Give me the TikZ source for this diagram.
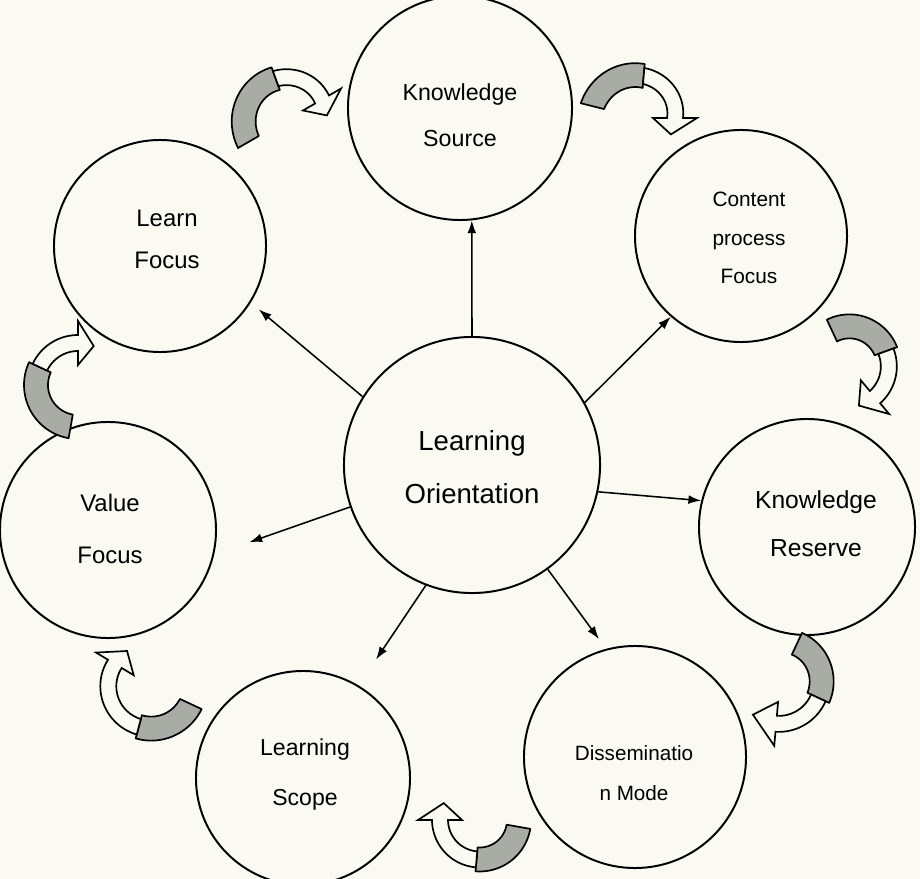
\documentclass[tikz,border=0pt]{standalone}
\usepackage{fontspec}
\setmainfont{Liberation Sans}
\usetikzlibrary{arrows.meta}
\definecolor{paper}{RGB}{250,250,242}
\definecolor{ribbon}{RGB}{168,172,165}
% curved ribbon arrow: #1 cx, #2 cy, #3 R start, #4 R end, #5 start angle, #6 twist angle, #7 head angle, #8 tip angle
\newcommand{\twarrow}[8]{%
  \pgfmathsetmacro{\twk}{((#4)-(#3))/((#7)-(#5))}%
  \filldraw[twgrey] plot[domain=#5:#6,samples=30,variable=\q]
      ({#1+(#3+\twk*(\q-(#5))+12)*cos(\q)},{#2+(#3+\twk*(\q-(#5))+12)*sin(\q)})
    -- plot[domain=#6:#5,samples=30,variable=\q]
      ({#1+(#3+\twk*(\q-(#5))-12)*cos(\q)},{#2+(#3+\twk*(\q-(#5))-12)*sin(\q)})
    -- cycle;
  \filldraw[twwhite] plot[domain=#6:#7,samples=30,variable=\q]
      ({#1+(#3+\twk*(\q-(#5))+8)*cos(\q)},{#2+(#3+\twk*(\q-(#5))+8)*sin(\q)})
    -- ({#1+(#4+22)*cos(#7)},{#2+(#4+22)*sin(#7)})
    -- ({#1+(#4)*cos(#8)},{#2+(#4)*sin(#8)})
    -- ({#1+(#4-22)*cos(#7)},{#2+(#4-22)*sin(#7)})
    -- plot[domain=#7:#6,samples=30,variable=\q]
      ({#1+(#3+\twk*(\q-(#5))-8)*cos(\q)},{#2+(#3+\twk*(\q-(#5))-8)*sin(\q)})
    -- cycle;
}
\begin{document}
\begin{tikzpicture}[x=0.025cm,y=-0.025cm,
  circ/.style={draw, circle, line width=1.4pt, inner sep=0pt},
  lbl/.style={align=center, inner sep=0pt},
  spoke/.style={line width=1.1pt, -{Latex[length=0.32cm,width=0.22cm]}},
  twgrey/.style={fill=ribbon, draw=black, line width=1.2pt, line join=round},
  twwhite/.style={fill=paper, draw=black, line width=1.2pt, line join=miter}]
\fill[paper] (0,0) rectangle (920,879);
\useasboundingbox (0,0) rectangle (920,879);

% circles
\node[circ, minimum size=6.4cm]  (C)   at (472,465) {};
\node[circ, minimum size=5.6cm]  (KS)  at (460,108) {};
\node[circ, minimum size=5.3cm]  (LF)  at (160,246) {};
\node[circ, minimum size=5.3cm]  (CPF) at (741,236) {};
\node[circ, minimum size=5.4cm]  (KR)  at (807,527) {};
\node[circ, minimum size=5.55cm] (DM)  at (635,757) {};
\node[circ, minimum size=5.35cm] (LS)  at (303,778) {};
\node[circ, minimum size=5.4cm]  (VF)  at (108,530) {};

% labels
\node[lbl, font=\fontsize{19.6}{37.7}\selectfont] (Ct)   at (472,467) {Learning\\Orientation};
\node[lbl, font=\fontsize{16.5}{32.7}\selectfont] (KSt)  at (460,115) {Knowledge\\Source};
\node[lbl, font=\fontsize{17}{30}\selectfont]     (LFt)  at (167,239) {Learn\\Focus};
\node[lbl, font=\fontsize{14.8}{27.4}\selectfont] (CPFt) at (749,238) {Content\\process\\Focus};
\node[lbl, font=\fontsize{17.5}{34}\selectfont]   (KRt)  at (816,524) {Knowledge\\Reserve};
\node[lbl, font=\fontsize{14.7}{29}\selectfont]   (DMt)  at (634,773) {Disseminatio\\n Mode};
\node[lbl, font=\fontsize{16.4}{35.6}\selectfont] (LSt)  at (305,775) {Learning\\Scope};
\node[lbl, font=\fontsize{17}{37}\selectfont]     (VFt)  at (110,529) {Value\\Focus};

% spokes
\draw[spoke] (C.90) -- (KS.-84);
\draw[spoke, shorten >=0.26cm] (C.148) -- (LF.-32.5);
\draw[spoke] (C.29) -- (CPF.-131.6);
\draw[spoke] (C.-12) -- (KR.166.6);
\draw[spoke, shorten >=0.3cm] (C.-54) -- (DM.105.6);
\draw[spoke, shorten >=0.78cm] (C.-111) -- (LS.59);
\draw[spoke, shorten >=0.93cm] (C.-161) -- (VF.-13);

% curved ribbon arrows
\twarrow{290}{118}{48}{37}{150}{250}{330}{356}
\twarrow{640}{118}{49}{35}{194}{275}{360}{388}
\twarrow{848}{365}{38}{42}{245}{340}{410}{435}
\twarrow{780}{680}{40}{44}{295}{385}{455}{488}
\twarrow{480}{820}{39}{40}{10}{95}{180}{205}
\twarrow{150}{685}{45}{41}{25}{105}{211}{236}
\twarrow{78}{385}{42}{42}{100}{205}{270}{292}
\end{tikzpicture}
\end{document}
